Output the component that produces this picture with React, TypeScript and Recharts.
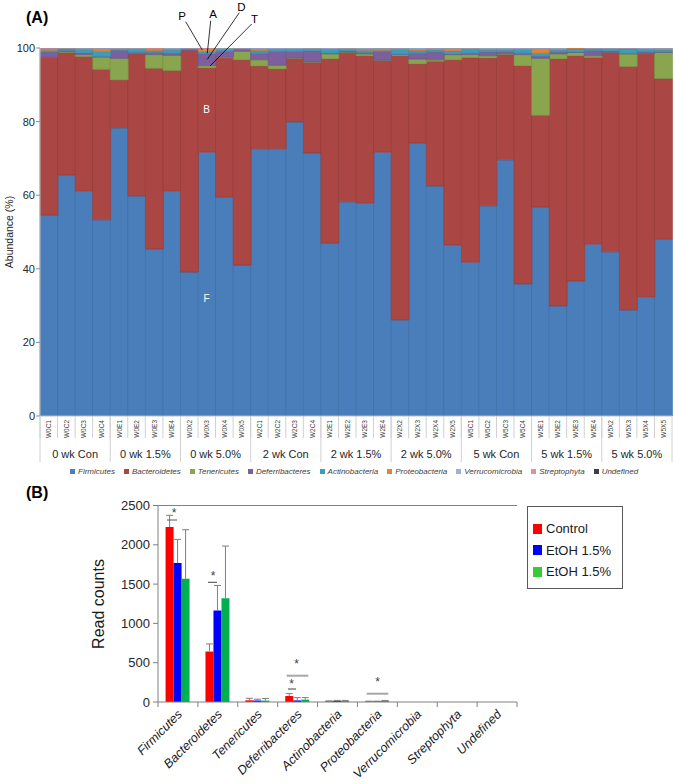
import React from 'react';
import { BarChart, Bar, XAxis, YAxis, ReferenceLine } from 'recharts';

const FONT = '"Liberation Sans", Arial, sans-serif';

// ---------- Panel A data ----------
const samples = ['W0C1','W0C2','W0C3','W0C4','W0E1','W0E2','W0E3','W0E4','W0X2','W0X3','W0X4','W0X5','W2C1','W2C2','W2C3','W2C4','W2E1','W2E2','W2E3','W2E4','W2X2','W2X3','W2X4','W2X5','W5C1','W5C2','W5C3','W5C4','W5E1','W5E2','W5E3','W5E4','W5X2','W5X3','W5X4','W5X5'];
const groups = ['0 wk Con','0 wk 1.5%','0 wk 5.0%','2 wk Con','2 wk 1.5%','2 wk 5.0%','5 wk Con','5 wk 1.5%','5 wk 5.0%'];
const phylaA = ['Firmicutes','Bacteroidetes','Tenericutes','Deferribacteres','Actinobacteria','Proteobacteria','Verrucomicrobia','Streptophyta','Undefined'];
const firmicutes = [54.6,65.5,61.1,53.3,78.3,59.8,45.4,61.1,39.1,71.7,59.5,41.0,72.6,72.6,79.9,71.5,47.0,58.2,57.9,71.7,26.1,74.2,62.5,46.5,41.8,57.1,69.6,35.9,56.8,29.9,36.7,46.7,44.6,28.8,32.3,48.1];
const bacteroidetes = [42.9,33.3,36.6,40.9,13.0,38.7,49.1,32.8,60.2,22.9,37.8,55.8,22.5,21.7,17.3,24.6,50.1,40.6,40.0,24.9,71.8,21.5,33.9,50.3,55.6,40.2,28.6,59.3,24.9,67.2,61.2,50.7,54.1,66.2,66.1,43.6];
const tenericutes = [0,0.2,0.5,3.3,5.9,0.1,3.7,4.1,0,0.6,0.2,2.3,1.7,1.0,0.1,0.1,1.3,0.1,0.5,0.1,0.3,1.3,0.4,1.4,0.8,0.6,0.2,3.0,15.5,1.3,0.9,0.5,0.1,3.4,0.1,7.1];
const deferribacteres = [1.4,0.4,0.5,0.2,2.2,0.2,0.6,0.6,0.3,3.2,1.6,0.5,1.8,3.8,1.8,3.0,0.2,0.3,0.4,2.4,0.1,1.6,2.1,0.2,0.4,1.0,0.6,0.4,0.6,0.5,0.1,1.4,0.4,0.1,0.5,0.1];
const actinobacteria = [0.5,0.4,0.9,1.4,0.2,0.8,0.5,0.9,0.2,0.6,0.5,0.2,0.7,0.5,0.5,0.5,1.0,0.5,0.6,0.3,1.3,0.7,0.6,0.8,1.1,0.6,0.5,1.0,0.8,0.6,0.9,0.5,0.5,1.3,0.6,0.6];
const proteobacteria = [0.4,0.1,0.3,0.8,0.3,0.3,0.5,0.3,0.1,0.7,0.3,0.1,0.5,0.2,0.2,0.2,0.2,0.2,0.4,0.5,0.3,0.4,0.4,0.7,0.2,0.3,0.3,0.2,1.3,0.3,0.2,0.1,0.2,0.1,0.2,0.4];
const verrucomicrobia = [0.1,0.1,0.1,0.1,0.1,0.1,0,0.2,0.1,0.2,0.1,0.1,0.2,0.2,0.2,0.1,0.2,0.1,0.2,0.1,0.1,0.3,0.1,0.1,0.1,0.2,0.2,0.2,0.1,0.2,0,0.1,0.1,0.1,0.2,0.1];
const streptophyta = [0.1,0,0,0,0,0,0.2,0,0,0.1,0,0,0,0,0,0,0,0,0,0,0,0,0,0,0,0,0,0,0,0,0,0,0,0,0,0];
const undefinedVals = [0,0,0,0,0,0,0,0,0,0,0,0,0,0,0,0,0,0,0,0,0,0,0,0,0,0,0,0,0,0,0,0,0,0,0,0];
const valuesA = [firmicutes, bacteroidetes, tenericutes, deferribacteres, actinobacteria, proteobacteria, verrucomicrobia, streptophyta, undefinedVals];
const yTicksA = [0, 20, 40, 60, 80, 100];

const fillsA = ['#4A7EBB','#AA4643','#89A54E','#7D5F9E','#3D9DB8','#E0843A','#9DB1D6','#D99594','#3F3F3F'];
const strokesA = ['#3E6CA3','#933B39','#76903F','#6A5088','#338AA2','#C47232','#8598BD','#BF807F','#2A2A2A'];

const dataA = samples.map((sample, i) => {
  const row: any = { sample, group: groups[Math.floor(i / 4)] };
  phylaA.forEach((p, k) => { row[p] = valuesA[k][i]; });
  return row;
});

// ---------- Panel B data ----------
const phylaB = ['Firmicutes','Bacteroidetes','Tenericutes','Deferribacteres','Actinobacteria','Proteobacteria','Verrucomicrobia','Streptophyta','Undefined'];
const controlMean = [2225, 642, 22, 76, 10, 8, 0, 0, 0];
const controlErr = [150, 97, 25, 31, 5, 3, 0, 0, 0];
const etoh15Mean = [1767, 1164, 18, 20, 15, 8, 0, 0, 0];
const etoh15Err = [302, 319, 18, 36, 5, 3, 0, 0, 0];
const etoh50Mean = [1567, 1321, 18, 30, 15, 15, 0, 0, 0];
const etoh50Err = [625, 663, 27, 26, 5, 5, 0, 0, 0];
const yTicksB = [0, 500, 1000, 1500, 2000, 2500];
const seriesB = ['Control', 'EtOH 1.5%', 'EtOH 1.5%'];

const dataB = phylaB.map((phylum, i) => ({
  phylum,
  ctrl: controlMean[i], ctrlErr: controlErr[i],
  e15: etoh15Mean[i], e15Err: etoh15Err[i],
  e50: etoh50Mean[i], e50Err: etoh50Err[i],
}));

// upper whisker drawn from the stacked error segment's own geometry
const Whisker = (props: any) => {
  const { x, y, width, height } = props;
  if (!height || height <= 0) return null;
  const cx = x + width / 2;
  return (
    <g>
      <line x1={cx} x2={cx} y1={y + height} y2={y} stroke="#7f7f7f" strokeWidth={1} />
      <line x1={cx - 3.5} x2={cx + 3.5} y1={y} y2={y} stroke="#7f7f7f" strokeWidth={1} />
    </g>
  );
};

const SampleTick = (props: any) => {
  const { x, y, payload } = props;
  const half = payload && payload.offset ? payload.offset : 8.78;
  return (
    <g>
      <line x1={x - half} x2={x - half} y1={y} y2={y + 22} stroke="#d0d0d0" strokeWidth={1} />
      <text x={x} y={y + 4} transform={`rotate(-90, ${x}, ${y + 4})`} textAnchor="end" dominantBaseline="central"
        fontSize={6.5} fill="#404040" fontFamily={FONT}>{payload.value}</text>
    </g>
  );
};

const GroupTick = (props: any) => {
  const { x, y, payload, index } = props;
  const half = payload && payload.offset ? payload.offset : 35.1;
  return (
    <g>
      <line x1={x - half} x2={x - half} y1={y - 26} y2={y + 20} stroke="#d0d0d0" strokeWidth={1} />
      {index === groups.length - 1 && (
        <line x1={x + half} x2={x + half} y1={y - 26} y2={y + 20} stroke="#d0d0d0" strokeWidth={1} />
      )}
      <text x={x} y={y + 16} textAnchor="middle" fontSize={11} fill="#262626" fontFamily={FONT}>{payload.value}</text>
    </g>
  );
};

const PhylumTick = (props: any) => {
  const { x, y, payload, index } = props;
  const half = payload && payload.offset ? payload.offset : 20;
  const tx = x + 5;
  const ty = y + 13;
  return (
    <g>
      <line x1={x - half} x2={x - half} y1={y} y2={y + 5} stroke="#808080" />
      {index === phylaB.length - 1 && <line x1={x + half} x2={x + half} y1={y} y2={y + 5} stroke="#808080" />}
      <text x={tx} y={ty} transform={`rotate(-45, ${tx}, ${ty})`} textAnchor="end" fontStyle="italic"
        fontSize={12.5} fill="#1a1a1a" fontFamily={FONT}>{payload.value}</text>
    </g>
  );
};

const legendColorsB = ['#FF0000', '#0000FF', '#33CC33'];

export default function App() {
  return (
    <div style={{ position: 'absolute', left: 0, top: 0, width: 675, height: 784, background: '#fff', fontFamily: FONT, overflow: 'hidden' }}>
      <div style={{ position: 'absolute', left: 0, top: 0 }}>
        <BarChart width={675} height={470} data={dataA} margin={{ top: 48, right: 3, bottom: 4, left: 10 }} barCategoryGap={0} barGap={0}>
          <XAxis xAxisId="a" dataKey="sample" interval={0} height={26} tickSize={0} tickMargin={0} tickLine={false}
            axisLine={{ stroke: '#bfbfbf' }} tick={(p: any) => <SampleTick {...p} />} />
          <XAxis xAxisId="b" dataKey="group" allowDuplicatedCategory={false} interval={0} height={24} tickSize={0} tickMargin={0}
            tickLine={false} axisLine={false} tick={(p: any) => <GroupTick {...p} />} />
          <YAxis width={30} domain={[0, 100]} ticks={yTicksA} allowDataOverflow tickSize={4} tickMargin={1}
            axisLine={{ stroke: '#bfbfbf' }} tickLine={{ stroke: '#8c8c8c' }}
            tick={{ fontSize: 11, fill: '#262626', fontFamily: FONT }} />
          {phylaA.map((name, k) => (
            <Bar key={name} dataKey={name} stackId="a" xAxisId="a" fill={fillsA[k]} stroke={strokesA[k]} strokeWidth={0.6} isAnimationActive={false} />
          ))}
        </BarChart>
      </div>

      <div style={{ position: 'absolute', left: 70, top: 466, display: 'flex', alignItems: 'center', height: 10, gap: 9 }}>
        {phylaA.map((name, k) => (
          <div key={name} style={{ display: 'flex', alignItems: 'center', gap: 3 }}>
            <div style={{ width: 5, height: 5, background: fillsA[k] }} />
            <span style={{ fontSize: 8, fontStyle: 'italic', color: '#404040', whiteSpace: 'nowrap' }}>{name}</span>
          </div>
        ))}
      </div>

      <div style={{ position: 'absolute', left: 0, top: 490 }}>
        <BarChart width={530} height={294} data={dataB} margin={{ top: 15.5, right: 13, bottom: 2, left: 0 }} barCategoryGap="19%" barGap={0}>
          <XAxis dataKey="phylum" interval={0} height={80} tickSize={0} tickMargin={0} tickLine={false}
            axisLine={{ stroke: '#808080' }} tick={(p: any) => <PhylumTick {...p} />} />
          <YAxis width={158} domain={[0, 2500]} ticks={yTicksB} tickSize={5} tickMargin={3} allowDataOverflow
            axisLine={{ stroke: '#808080' }} tickLine={{ stroke: '#808080' }}
            tick={{ fontSize: 13, fill: '#262626', fontFamily: FONT }} />
          <YAxis yAxisId="r" orientation="right" width={0} domain={[0, 2500]} tick={false} tickLine={false} axisLine={{ stroke: '#808080' }} />
          <ReferenceLine y={2500} stroke="#808080" />
          <Bar dataKey="ctrl" stackId="c" name={seriesB[0]} fill="#FF0000" isAnimationActive={false} />
          <Bar dataKey="ctrlErr" stackId="c" fill="none" shape={(p: any) => <Whisker {...p} />} isAnimationActive={false} />
          <Bar dataKey="e15" stackId="e1" name={seriesB[1]} fill="#0000FF" isAnimationActive={false} />
          <Bar dataKey="e15Err" stackId="e1" fill="none" shape={(p: any) => <Whisker {...p} />} isAnimationActive={false} />
          <Bar dataKey="e50" stackId="e2" name={seriesB[2]} fill="#00B050" isAnimationActive={false} />
          <Bar dataKey="e50Err" stackId="e2" fill="none" shape={(p: any) => <Whisker {...p} />} isAnimationActive={false} />
        </BarChart>
      </div>

      <div style={{ position: 'absolute', left: 527, top: 506, width: 94, height: 81, border: '1px solid #595959', background: '#fff' }}>
        {seriesB.map((s, k) => (
          <div key={k} style={{ position: 'absolute', left: 5, top: 14 + k * 21.6, display: 'flex', alignItems: 'center', gap: 4 }}>
            <div style={{ width: 9, height: 10, background: legendColorsB[k] }} />
            <span style={{ fontSize: 13, color: '#1a1a1a', whiteSpace: 'nowrap' }}>{s}</span>
          </div>
        ))}
      </div>

      <svg width={675} height={784} style={{ position: 'absolute', left: 0, top: 0, pointerEvents: 'none' }} fontFamily={FONT}>
        <text x={26} y={23} fontSize={16} fontWeight="bold" fill="#000">(A)</text>
        <text x={26} y={498} fontSize={16} fontWeight="bold" fill="#000">(B)</text>
        <text transform="translate(13,232) rotate(-90)" textAnchor="middle" fontSize={10.5} fill="#262626">Abundance (%)</text>
        <text transform="translate(104,604) rotate(-90)" textAnchor="middle" fontSize={16} fill="#1a1a1a">Read counts</text>

        <text x={182} y={20} fontSize={11.5} textAnchor="middle" fill="#000">P</text>
        <text x={213} y={18.3} fontSize={11.5} textAnchor="middle" fill="#000">A</text>
        <text x={241.3} y={10.7} fontSize={11.5} textAnchor="middle" fill="#000">D</text>
        <text x={254.5} y={22.7} fontSize={11.5} textAnchor="middle" fill="#000">T</text>
        <line x1={185.7} y1={21.7} x2={202.3} y2={50} stroke="#000" strokeWidth={0.8} />
        <line x1={210.7} y1={20.7} x2={207.3} y2={53.3} stroke="#000" strokeWidth={0.8} />
        <line x1={239.3} y1={12.7} x2={207.3} y2={59.3} stroke="#000" strokeWidth={0.8} />
        <line x1={251.7} y1={24} x2={210} y2={66} stroke="#000" strokeWidth={0.8} />
        <text x={206.5} y={113} fontSize={10} textAnchor="middle" fill="#fff">B</text>
        <text x={206.5} y={302} fontSize={10} textAnchor="middle" fill="#fff">F</text>

        <line x1={167} y1={520} x2={177} y2={520} stroke="#595959" strokeWidth={1} />
        <text x={174} y={517} fontSize={12} textAnchor="middle" fill="#404040">*</text>
        <line x1={208} y1={582.3} x2={217} y2={582.3} stroke="#404040" strokeWidth={1} />
        <text x={213} y={580} fontSize={12} textAnchor="middle" fill="#404040">*</text>
        <line x1={288} y1={689} x2={296} y2={689} stroke="#404040" strokeWidth={1} />
        <text x={291.7} y={688} fontSize={12} textAnchor="middle" fill="#404040">*</text>
        <line x1={286.7} y1={675.7} x2={308.3} y2={675.7} stroke="#a6a6a6" strokeWidth={2} />
        <text x={296.7} y={668} fontSize={12} textAnchor="middle" fill="#404040">*</text>
        <line x1={366.7} y1={693.7} x2={388.3} y2={693.7} stroke="#a6a6a6" strokeWidth={2} />
        <text x={377.7} y={686} fontSize={12} textAnchor="middle" fill="#404040">*</text>
      </svg>
    </div>
  );
}
